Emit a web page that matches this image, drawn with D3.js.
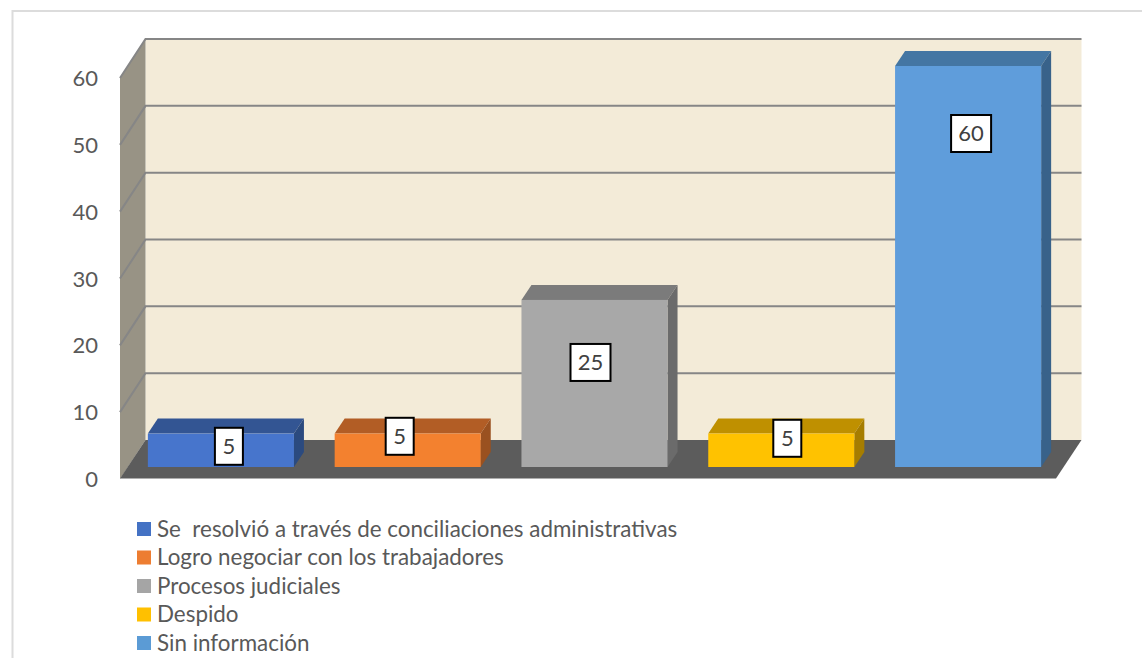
<!DOCTYPE html>
<html>
<head>
<meta charset="utf-8">
<script src="https://cdn.jsdelivr.net/npm/d3@7"></script>
<style>
html, body { margin: 0; padding: 0; background: #fff; overflow: hidden; }
text { font-family: Lato, "Open Sans", sans-serif; fill: #595959; white-space: pre; }
</style>
</head>
<body>
<div id="chart"></div>
<script>
// values
const categories = [
	'Se  resolvió a través de conciliaciones administrativas',
	'Logro negociar con los trabajadores',
	'Procesos judiciales',
	'Despido',
	'Sin información'
];
const values = [5, 5, 25, 5, 60];
const yTicks = [0, 10, 20, 30, 40, 50, 60];

// colours per bar: front, top, side. legend keys are a touch duller than the bars
const frontColors = ['#4775cc', '#f3812f', '#a8a8a8', '#ffc200', '#5f9ddb'];
const topColors = ['#335593', '#b25d25', '#7b7b7b', '#bf9000', '#4476a3'];
const sideColors = ['#2b4a7f', '#9a5120', '#6b6b6b', '#a67d00', '#38628a'];
const legendColors = ['#4472c4', '#ed7d31', '#a5a5a5', '#ffc000', '#5b9bd5'];

// label box nudges from the bar centre, placed by hand in the original
const labelDx = [8, -8, -4, 6, 3];
const labelDy = [-4, -14, -21, -12, -133];

const width = 1142;
const height = 658;

// the 3d box
const floorLeft = 120;
const floorRight = 1056;
const floorFront = 479;
const plotTop = 78;
const depthX = 25.5;
const depthY = -39;
// bars sit partway into the box and are thinner than it
const barOffsetX = 7.5;
const barOffsetY = -12;
const barDepthX = 10;
const barDepthY = -15;

const x = d3.scaleBand()
	.domain(categories)
	.range([floorLeft, floorRight - 2])
	.paddingInner(0.218)
	.paddingOuter(0.109);

const y = d3.scaleLinear()
	.domain([0, 60])
	.range([floorFront, plotTop]);

const poly = pts => `M${pts.map(p => p.join(',')).join('L')}Z`;

const $svg = d3.select('#chart').append('svg')
	.attr('width', width)
	.attr('height', height)
	.style('display', 'block');

// outer frame, cut off by the edges of the picture
$svg.append('path')
	.attr('d', `M12.5,${height}V11H${width}`)
	.attr('fill', 'none')
	.attr('stroke', '#dcdcdc')
	.attr('stroke-width', 2);

// back wall
$svg.append('rect')
	.attr('x', floorLeft + depthX)
	.attr('y', y(60) + depthY)
	.attr('width', floorRight - floorLeft)
	.attr('height', y(0) - y(60))
	.attr('fill', '#f3ebd8');

// side wall
$svg.append('path')
	.attr('d', poly([
		[floorLeft, y(0)],
		[floorLeft, y(60)],
		[floorLeft + depthX, y(60) + depthY],
		[floorLeft + depthX, y(0) + depthY]
	]))
	.attr('fill', '#989385');

// floor
$svg.append('path')
	.attr('d', poly([
		[floorLeft, y(0) - 0.5],
		[floorRight, y(0) - 0.5],
		[floorRight + depthX, y(0) + depthY],
		[floorLeft + depthX, y(0) + depthY]
	]))
	.attr('fill', '#5c5c5c');

// gridlines run along the side wall and the back wall
$svg.selectAll('.grid')
	.data(yTicks.filter(d => d > 0))
	.enter()
	.append('path')
	.attr('class', 'grid')
	.attr('d', d => `M${floorLeft},${y(d)}L${floorLeft + depthX},${y(d) + depthY}H${floorRight + depthX}`)
	.attr('fill', 'none')
	.attr('stroke', '#868686')
	.attr('stroke-width', 2);

// y tick labels
$svg.selectAll('.tick-label')
	.data(yTicks)
	.enter()
	.append('text')
	.attr('class', 'tick-label')
	.attr('x', 98)
	.attr('y', d => y(d))
	.attr('dy', '0.37em')
	.attr('text-anchor', 'end')
	.style('font-size', '22px')
	.text(d => d);

// bars
const $bars = $svg.selectAll('.bar')
	.data(categories.map((name, i) => ({ name, value: values[i], i })))
	.enter()
	.append('g')
	.attr('class', 'bar');

const bx0 = d => x(d.name) + barOffsetX;
const bx1 = d => bx0(d) + x.bandwidth();
const by0 = () => y(0) + barOffsetY;
const by1 = d => y(d.value) + barOffsetY;

$bars.append('path')
	.attr('d', d => poly([
		[bx0(d), by1(d)],
		[bx1(d), by1(d)],
		[bx1(d) + barDepthX, by1(d) + barDepthY],
		[bx0(d) + barDepthX, by1(d) + barDepthY]
	]))
	.attr('fill', d => topColors[d.i]);

$bars.append('path')
	.attr('d', d => poly([
		[bx1(d), by0()],
		[bx1(d), by1(d)],
		[bx1(d) + barDepthX, by1(d) + barDepthY],
		[bx1(d) + barDepthX, by0() + barDepthY]
	]))
	.attr('fill', d => sideColors[d.i]);

$bars.append('rect')
	.attr('x', bx0)
	.attr('y', by1)
	.attr('width', x.bandwidth())
	.attr('height', d => by0() - by1(d))
	.attr('fill', d => frontColors[d.i]);

// value labels in black boxes
const labelX = d => (bx0(d) + bx1(d)) / 2 + labelDx[d.i];
const labelY = d => (by0() + by1(d)) / 2 + labelDy[d.i];
const boxW = d => (d.value > 9 ? 40 : 28);

$bars.append('rect')
	.attr('x', d => labelX(d) - boxW(d) / 2)
	.attr('y', d => labelY(d) - 18.5)
	.attr('width', boxW)
	.attr('height', 37)
	.attr('fill', '#fff')
	.attr('stroke', '#000')
	.attr('stroke-width', 2);

$bars.append('text')
	.attr('x', labelX)
	.attr('y', labelY)
	.attr('dy', '0.36em')
	.attr('text-anchor', 'middle')
	.style('font-size', '22px')
	.style('fill', '#404040')
	.text(d => d.value);

// legend
const legendY = d3.scalePoint()
	.domain(categories)
	.range([529, 643]);

const $legend = $svg.selectAll('.legend')
	.data(categories)
	.enter()
	.append('g')
	.attr('class', 'legend')
	.attr('transform', d => `translate(137, ${legendY(d)})`);

$legend.append('rect')
	.attr('y', -7)
	.attr('width', 14)
	.attr('height', 14)
	.attr('fill', (d, i) => legendColors[i]);

$legend.append('text')
	.attr('x', 20)
	.attr('dy', '0.35em')
	.style('font-size', '22.4px')
	.text(d => d);
</script>
</body>
</html>
